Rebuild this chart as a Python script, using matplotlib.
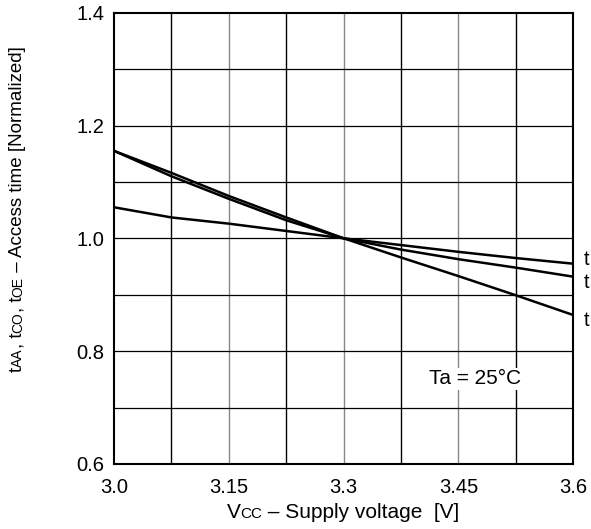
import matplotlib

matplotlib.use("Agg")
import matplotlib.pyplot as plt

plt.rcParams["font.family"] = ["Liberation Sans", "DejaVu Sans"]

# supply voltage points (V) and normalized access times
vcc = [3.0, 3.075, 3.15, 3.225, 3.3, 3.375, 3.45, 3.525, 3.6]
t_flat = [1.055, 1.037, 1.026, 1.013, 1.0, 0.988, 0.976, 0.965, 0.955]
t_mid = [1.155, 1.110, 1.070, 1.032, 1.0, 0.980, 0.963, 0.948, 0.932]
t_steep = [1.155, 1.116, 1.075, 1.037, 1.0, 0.966, 0.933, 0.899, 0.864]
end_label_y = [0.962, 0.921, 0.854]

x_ticks = [3.0, 3.15, 3.3, 3.45, 3.6]
x_tick_labels = ["3.0", "3.15", "3.3", "3.45", "3.6"]
y_ticks = [0.6, 0.8, 1.0, 1.2, 1.4]
y_tick_labels = ["0.6", "0.8", "1.0", "1.2", "1.4"]
x_grid = [3.075, 3.15, 3.225, 3.3, 3.375, 3.45, 3.525]
y_grid = [0.7, 0.8, 0.9, 1.0, 1.1, 1.2, 1.3]

xlabel_parts = [("V", 15), ("CC", 11), (" – Supply voltage  [V]", 15)]
ylabel_parts = [("t", 13.5), ("AA", 10), (", t", 13.5), ("CO", 10), (", t", 13.5),
                ("OE", 10), (" – Access time [Normalized]", 13.5)]


def mixed_label(fig, parts, cx, cy, vertical=False):
    """Lay out text pieces of different sizes on one baseline, centred at (cx, cy) px."""
    r = fig.canvas.get_renderer()
    widths = []
    for s, size in parts:
        t = fig.text(0, 0, s, fontsize=size)
        widths.append(t.get_window_extent(r).width)
        t.remove()
    pos = -sum(widths) / 2
    W, H = fig.bbox.width, fig.bbox.height
    for (s, size), w in zip(parts, widths):
        if vertical:
            x, y = cx, cy + pos
        else:
            x, y = cx + pos, cy
        fig.text(x / W, y / H, s, fontsize=size, ha="left", va="baseline",
                 rotation=90 if vertical else 0, rotation_mode="anchor")
        pos += w


fig = plt.figure(figsize=(5.91, 5.29), dpi=100)
ax = fig.add_axes([0.193, 0.123, 0.777, 0.853])

for i, gx in enumerate(x_grid):
    ax.axvline(gx, color="#000000" if i % 2 == 0 else "#888888", lw=1.0, zorder=1)
for gy in y_grid:
    ax.axhline(gy, color="#000000", lw=0.9, zorder=1)

for ys in (t_flat, t_mid, t_steep):
    ax.plot(vcc, ys, color="black", lw=1.8, zorder=3)

ax.set_xlim(3.0, 3.6)
ax.set_ylim(0.6, 1.4)
ax.set_xticks(x_ticks, x_tick_labels, fontsize=14.5)
ax.set_yticks(y_ticks, y_tick_labels, fontsize=14.5)
ax.tick_params(axis="x", length=0, pad=10)
ax.tick_params(axis="y", length=0, pad=7)
for sp in ax.spines.values():
    sp.set_linewidth(1.5)

# partially visible curve labels on the right edge
for yv in end_label_y:
    ax.text(3.614, yv, "t", fontsize=14.5, va="center", ha="left", clip_on=False)

ax.text(3.472, 0.751, "Ta = 25°C", fontsize=15, ha="center", va="center",
        bbox=dict(facecolor="white", edgecolor="none", pad=1), zorder=4)

# labels with small-caps style subscripts (pixel coords from bottom-left)
mixed_label(fig, xlabel_parts, 343, 529 - 518)
mixed_label(fig, ylabel_parts, 22, 529 - 209, vertical=True)

fig.savefig("out.png", dpi=100)
